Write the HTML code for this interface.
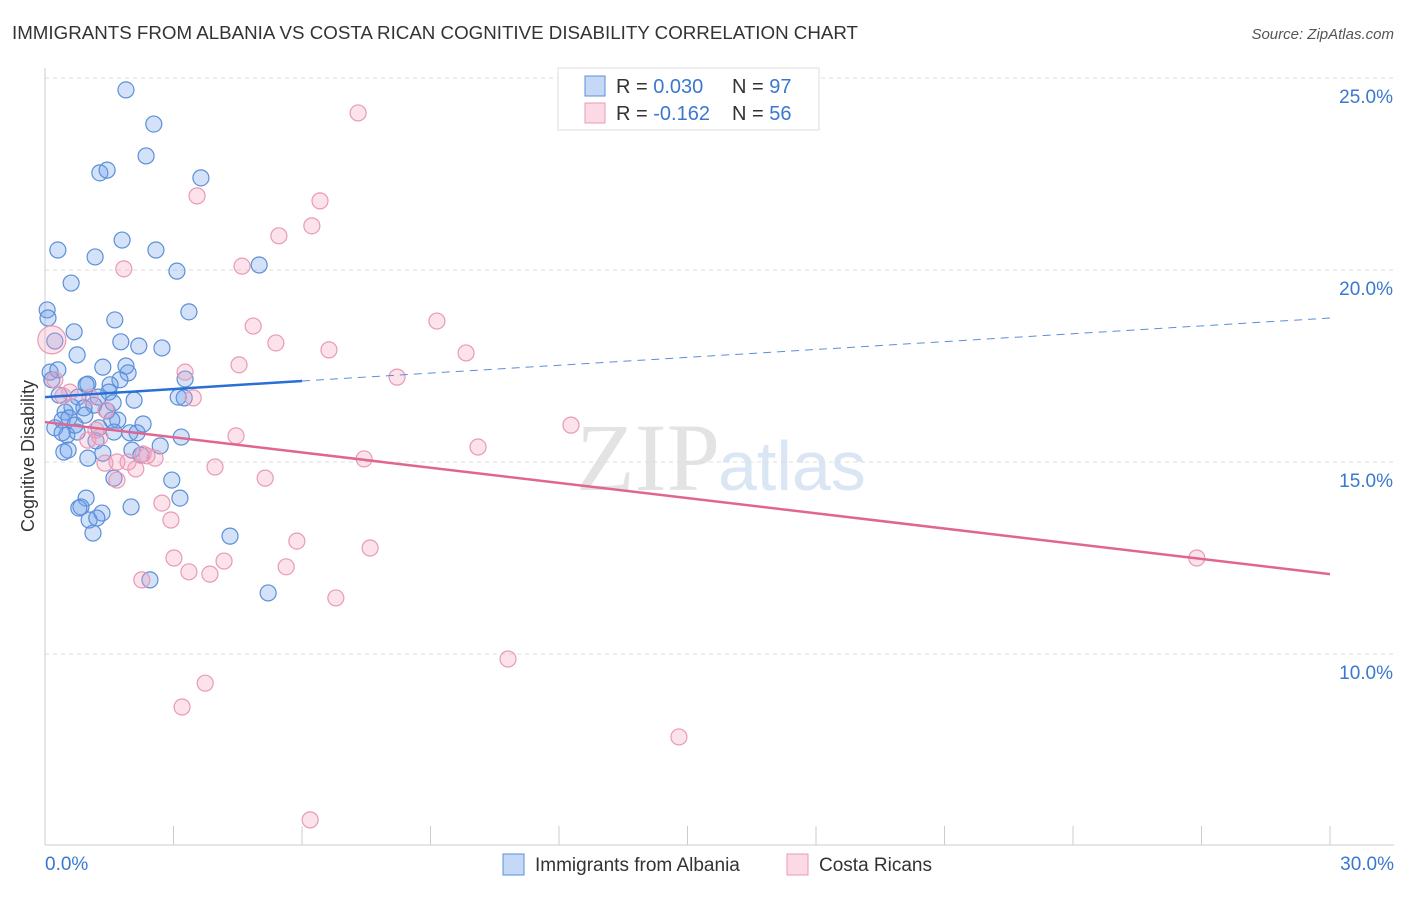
<!DOCTYPE html>
<html><head><meta charset="utf-8"><style>
body{margin:0;background:#fff;font-family:"Liberation Sans",sans-serif;}
</style></head><body>
<svg width="1406" height="892" xmlns="http://www.w3.org/2000/svg" id="chart">
<text x="12" y="39" font-size="18" fill="#333" textLength="846" lengthAdjust="spacingAndGlyphs">IMMIGRANTS FROM ALBANIA VS COSTA RICAN COGNITIVE DISABILITY CORRELATION CHART</text>
<text x="1394" y="39" font-size="15" fill="#555" font-style="italic" text-anchor="end">Source: ZipAtlas.com</text>
<text x="720" y="490" font-size="96" fill="#e3e3e3" text-anchor="end" font-family="Liberation Serif">ZIP</text>
<text x="718" y="490" font-size="70" fill="#dbe6f5">atlas</text>
<g id="grid"></g>
<g id="axes"></g>
<g id="marks"></g>
<text transform="translate(34,456) rotate(-90)" font-size="18" fill="#333" text-anchor="middle">Cognitive Disability</text>
<g>
<rect x="558" y="68" width="261" height="62" fill="#fff" stroke="#ddd"/>
<rect x="585" y="76" width="20" height="20" fill="rgba(110,160,235,0.4)" stroke="#5b8fd8"/>
<rect x="585" y="103" width="20" height="20" fill="rgba(245,160,190,0.4)" stroke="#e89ab5"/>
<text x="616" y="93" font-size="20" fill="#333">R = <tspan fill="#3a78d0">0.030</tspan></text>
<text x="732" y="93" font-size="20" fill="#333">N = <tspan fill="#3a78d0">97</tspan></text>
<text x="616" y="120" font-size="20" fill="#333">R = <tspan fill="#3a78d0">-0.162</tspan></text>
<text x="732" y="120" font-size="20" fill="#333">N = <tspan fill="#3a78d0">56</tspan></text>
</g>
<g>
<rect x="503" y="854" width="21" height="21" fill="rgba(110,160,235,0.4)" stroke="#5b8fd8"/>
<text x="535" y="871" font-size="19" fill="#333">Immigrants from Albania</text>
<rect x="787" y="854" width="21" height="21" fill="rgba(245,160,190,0.4)" stroke="#e89ab5"/>
<text x="819" y="871" font-size="19" fill="#333">Costa Ricans</text>
</g>
</svg>
<script>
const blueX=[1.89,2.54,2.36,1.28,1.45,3.64,1.80,0.30,2.59,1.17,3.08,5.00,0.61,0.05,3.36,0.07,1.63,0.68,0.23,1.77,2.19,2.73,0.75,1.89,1.35,1.94,0.12,0.16,3.27,1.75,1.00,0.96,1.52,1.49,0.33,0.77,1.24,2.08,3.11,3.25,1.14,0.63,0.47,1.45,0.93,1.70,1.56,2.29,0.40,0.56,0.23,1.26,1.61,1.98,2.15,3.18,0.51,0.75,1.19,0.44,0.54,1.35,2.03,2.69,1.00,2.24,1.61,2.96,0.96,3.15,0.84,0.79,2.01,1.33,1.03,1.21,1.12,4.32,2.45,5.21,1.59,0.40,0.91,0.70,0.30];
const blueY=[24.69,23.80,22.97,22.53,22.60,22.40,20.78,20.52,20.52,20.34,19.97,20.13,19.66,18.96,18.91,18.75,18.70,18.39,18.15,18.13,18.02,17.97,17.79,17.50,17.47,17.32,17.34,17.14,17.16,17.14,17.03,17.01,17.01,16.82,16.74,16.69,16.69,16.61,16.69,16.67,16.48,16.43,16.30,16.33,16.22,16.09,16.09,15.99,16.09,16.15,15.89,15.89,15.78,15.76,15.76,15.65,15.70,15.78,15.55,15.26,15.31,15.23,15.31,15.42,15.10,15.18,14.58,14.53,14.06,14.06,13.83,13.80,13.83,13.67,13.49,13.54,13.15,13.07,11.93,11.59,16.54,15.76,16.41,15.96,17.40];
const pinkX=[7.31,3.55,6.42,6.23,5.46,1.84,4.60,4.86,9.15,5.39,6.63,9.83,4.53,8.22,3.27,0.23,0.58,3.46,0.42,1.05,1.42,12.28,4.46,1.28,1.00,10.11,7.45,2.57,2.38,2.29,1.68,1.94,1.40,2.12,3.97,5.14,1.68,2.73,2.94,5.88,7.59,3.01,4.18,3.36,3.85,5.63,2.26,6.79,10.81,3.74,3.20,14.80,26.89,6.19,1.19,0.16];
const pinkY=[24.09,21.93,21.80,21.15,20.89,20.03,20.10,18.54,18.67,18.10,17.92,17.84,17.53,17.21,17.34,17.14,16.82,16.67,16.72,16.69,16.35,15.96,15.68,15.65,15.57,15.39,15.08,15.10,15.16,15.21,15.00,15.00,14.97,14.82,14.87,14.58,14.53,13.93,13.49,12.94,12.76,12.50,12.42,12.14,12.08,12.27,11.93,11.46,9.87,9.24,8.62,7.84,12.50,5.68,15.83,18.18];
const blueTrendX=[0,6,30];
const blueTrendY=[16.69,17.11,18.75];
const pinkTrendX=[0,30];
const pinkTrendY=[16.04,12.08];
const yTicks=[25,20,15,10];
const xTicks=[0,3,6,9,12,15,18,21,24,27,30];
const NS="http://www.w3.org/2000/svg";
const sx=v=>45+v/30*1285;
const sy=v=>78+(25-v)*38.4;
function mk(tag,attrs,parent){const e=document.createElementNS(NS,tag);for(const k in attrs)e.setAttribute(k,attrs[k]);document.getElementById(parent).appendChild(e);return e;}
yTicks.forEach(t=>{
 const l=mk('line',{x1:45,x2:1394,y1:sy(t),y2:sy(t),stroke:'#ddd','stroke-dasharray':'4,4'},'grid');
 
 
 const tx=mk('text',{x:1393,y:sy(t)+25,'font-size':19,fill:'#3a78d0','text-anchor':'end'},'grid');
 tx.textContent=t.toFixed(1)+'%';
 
 
});
const ax=mk('line',{x1:45,x2:45,y1:68,y2:845,stroke:'#ccc'},'axes');


const bx=mk('line',{x1:45,x2:1394,y1:845,y2:845,stroke:'#ccc'},'axes');


xTicks.forEach(t=>{
 const l=mk('line',{x1:sx(t),x2:sx(t),y1:826,y2:845,stroke:'#ccc'},'axes');
 
 
});
[[0,'start',45],[30,'end',1394]].forEach(a=>{
 const tx=mk('text',{x:a[2],y:870,'font-size':19,fill:'#3a78d0','text-anchor':a[1]},'axes');
 tx.textContent=a[0].toFixed(1)+'%';
 
 
});
blueX.forEach((x,i)=>{
 const c=mk('circle',{cx:sx(x),cy:sy(blueY[i]),r:8,fill:'rgba(110,160,235,0.3)',stroke:'#5b8fd8','stroke-width':1.2},'marks');
 
 
});
pinkX.forEach((x,i)=>{
 const c=mk('circle',{cx:sx(x),cy:sy(pinkY[i]),r:i==pinkX.length-1?14:8,fill:'rgba(245,160,190,0.3)',stroke:'#e89ab5','stroke-width':1.2},'marks');
 
 
});
const bt=mk('line',{x1:sx(blueTrendX[0]),y1:sy(blueTrendY[0]),x2:sx(blueTrendX[1]),y2:sy(blueTrendY[1]),stroke:'#2a6fd6','stroke-width':2.5},'marks');


const bd=mk('line',{x1:sx(blueTrendX[1]),y1:sy(blueTrendY[1]),x2:sx(blueTrendX[2]),y2:sy(blueTrendY[2]),stroke:'#5b8fd8','stroke-width':1,'stroke-dasharray':'8,6'},'marks');


const pt=mk('line',{x1:sx(pinkTrendX[0]),y1:sy(pinkTrendY[0]),x2:sx(pinkTrendX[1]),y2:sy(pinkTrendY[1]),stroke:'#e0668f','stroke-width':2.5},'marks');


</script>
</body></html>
